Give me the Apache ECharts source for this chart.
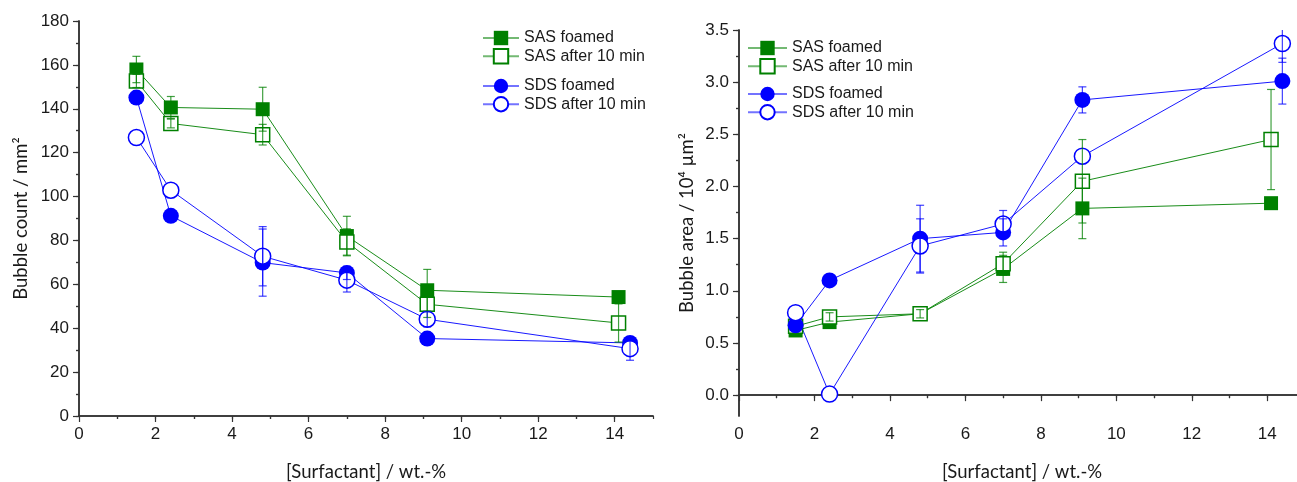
<!DOCTYPE html>
<html>
<head>
<meta charset="utf-8">
<script src="https://cdn.jsdelivr.net/npm/echarts@6/dist/echarts.min.js"></script>
<style>
html,body{margin:0;padding:0;background:#fff;}
#chart{width:1297px;height:482px;}
</style>
</head>
<body>
<div id="chart"></div>
<script>
// ---------- DATA ----------
const concSAS = [1.5, 2.4, 4.8, 7.0, 9.1, 14.1];
const concSDS = [1.5, 2.4, 4.8, 7.0, 9.1, 14.4];

// Left: bubble count / mm^2
const countSASFoamed    = [157.9, 140.6, 139.8, 82.0, 57.3, 54.2];
const countSASFoamedErr = [6, 5, 10, 9, 9.5, 0];
const countSAS10        = [152.7, 133.3, 128.2, 79.3, 50.9, 42.4];
const countSAS10Err     = [3, 2, 4.7, 6, 6, 8.7];
const countSDSFoamed    = [145.1, 91.2, 69.9, 65.2, 35.3, 33.3];
const countSDSFoamedErr = [0, 0, 15.3, 3, 0, 0];
const countSDS10        = [126.9, 102.9, 72.8, 61.9, 44.1, 30.7];
const countSDS10Err     = [0, 0, 13.5, 5.4, 3.4, 5.3];

// Right: bubble area / 10^4 um^2
const areaSASFoamed    = [0.62, 0.70, 0.78, 1.21, 1.79, 1.84];
const areaSASFoamedErr = [0, 0, 0, 0.13, 0.29, 0];
const areaSAS10        = [0.66, 0.75, 0.78, 1.26, 2.05, 2.45];
const areaSAS10Err     = [0, 0.04, 0.04, 0.11, 0.40, 0.48];
const areaSDSFoamed    = [0.67, 1.10, 1.50, 1.56, 2.83, 3.01];
const areaSDSFoamedErr = [0, 0, 0.32, 0.13, 0.125, 0.22];
const areaSDS10        = [0.79, 0.01, 1.43, 1.64, 2.29, 3.37];
const areaSDS10Err     = [0, 0, 0.26, 0.13, 0, 0.18];

const xLabelTicks = [0, 2, 4, 6, 8, 10, 12, 14];
const xMinorTicks = [1, 3, 5, 7, 9, 11, 13, 15];
const countLabelTicks = [0, 20, 40, 60, 80, 100, 120, 140, 160, 180];
const countMinorTicks = [10, 30, 50, 70, 90, 110, 130, 150, 170];
const areaLabelTicks = [0, 0.5, 1.0, 1.5, 2.0, 2.5, 3.0, 3.5];
const areaMinorTicks = [0.25, 0.75, 1.25, 1.75, 2.25, 2.75, 3.25];

// ---------- STYLE ----------
const GREEN = '#008000';
const BLUE = '#0000ff';
const AXIS = '#333333';
const TICKFONT = 'Liberation Sans';
const TITLEFONT = 'Lato';

const zip = (xs, ys) => xs.map((x, i) => [x, ys[i]]);
const zip3 = (xs, ys, es) => xs.map((x, i) => [x, ys[i], es[i]]);

function lineSeries(name, xs, ys, symbol, filled, color, size, ai) {
  return {
    type: 'line', name, data: zip(xs, ys),
    xAxisIndex: ai, yAxisIndex: ai,
    symbol, symbolSize: size,
    showAllSymbol: true,
    lineStyle: { color, width: 1, opacity: 0.9 },
    itemStyle: filled ? { color, borderColor: color, borderWidth: 0 }
                      : { color: '#ffffff', borderColor: color, borderWidth: 1.5 },
    emphasis: { disabled: true },
    z: 3, animation: false
  };
}

function errSeries(xs, ys, es, color, ai) {
  return {
    type: 'custom', xAxisIndex: ai, yAxisIndex: ai,
    data: zip3(xs, ys, es), clip: true, z: 4, silent: true, animation: false,
    renderItem: function (params, api) {
      const x = api.value(0), y = api.value(1), e = api.value(2);
      if (!e) return { type: 'group', children: [] };
      const top = api.coord([x, y + e]);
      const bot = api.coord([x, y - e]);
      const cw = 4;
      const st = { stroke: color, lineWidth: 1.2, opacity: 0.75 };
      return {
        type: 'group', children: [
          { type: 'line', shape: { x1: top[0], y1: top[1], x2: bot[0], y2: bot[1] }, style: st },
          { type: 'line', shape: { x1: top[0] - cw, y1: top[1], x2: top[0] + cw, y2: top[1] }, style: st },
          { type: 'line', shape: { x1: bot[0] - cw, y1: bot[1], x2: bot[0] + cw, y2: bot[1] }, style: st }
        ]
      };
    }
  };
}

function xAxes(grid, title) {
  const base = { type: 'value', gridIndex: grid, min: 0, max: 15, splitLine: { show: false } };
  return [
    Object.assign({}, base, {
      position: 'bottom',
      axisLine: { show: true, lineStyle: { color: AXIS, width: 1.5 } },
      axisTick: { show: true, inside: false, length: 6, customValues: xLabelTicks, lineStyle: { color: AXIS, width: 1.2 } },
      axisLabel: { show: true, customValues: xLabelTicks, margin: 10, fontFamily: TICKFONT, fontSize: 17, color: '#1a1a1a' },
      name: title, nameLocation: 'middle', nameGap: 47,
      nameTextStyle: { fontFamily: TITLEFONT, fontSize: 18.5, color: '#1a1a1a' }
    }),
    Object.assign({}, base, {
      position: 'bottom',
      axisLine: { show: false },
      axisTick: { show: true, inside: false, length: 3, customValues: xMinorTicks, lineStyle: { color: AXIS, width: 1.2 } },
      axisLabel: { show: false }
    }),
    Object.assign({}, base, {
      position: 'top',
      axisLine: { show: true, lineStyle: { color: AXIS, width: 1.5 } },
      axisTick: { show: true, inside: true, length: 3, customValues: [1,2,3,4,5,6,7,8,9,10,11,12,13,14], lineStyle: { color: AXIS, width: 1.2 } },
      axisLabel: { show: false }
    })
  ];
}

function yAxes(grid, min, max, labels, minors, allTicks, fmt, title, gap) {
  const base = { type: 'value', gridIndex: grid, min, max, splitLine: { show: false } };
  return [
    Object.assign({}, base, {
      position: 'left',
      axisLine: { show: true, lineStyle: { color: AXIS, width: 1.5 } },
      axisTick: { show: true, inside: false, length: 6, customValues: labels, lineStyle: { color: AXIS, width: 1.2 } },
      axisLabel: { show: true, customValues: labels, margin: 10, formatter: fmt, fontFamily: TICKFONT, fontSize: 17, color: '#1a1a1a' },
      name: title, nameLocation: 'middle', nameGap: gap, nameRotate: 90,
      nameTextStyle: { fontFamily: TITLEFONT, fontSize: 18.5, color: '#1a1a1a' }
    }),
    Object.assign({}, base, {
      position: 'left',
      axisLine: { show: false },
      axisTick: { show: true, inside: false, length: 3, customValues: minors, lineStyle: { color: AXIS, width: 1.2 } },
      axisLabel: { show: false }
    }),
    Object.assign({}, base, {
      position: 'right',
      axisLine: { show: true, lineStyle: { color: AXIS, width: 1.5 } },
      axisTick: { show: true, inside: true, length: 3, customValues: allTicks, lineStyle: { color: AXIS, width: 1.2 } },
      axisLabel: { show: false }
    })
  ];
}

function legend(names, left, top, iw) {
  return {
    data: names, orient: 'vertical', left, top, padding: 0,
    itemWidth: iw, itemHeight: 18, itemGap: 2,
    selectedMode: false,
    lineStyle: { opacity: 0.55 },
    textStyle: { fontFamily: TICKFONT, fontSize: 16, color: '#1a1a1a' }
  };
}

const countAllTicks = countMinorTicks.concat(countLabelTicks).sort((a, b) => a - b);
const areaAllTicks = areaMinorTicks.concat(areaLabelTicks).sort((a, b) => a - b);

const option = {
  backgroundColor: '#ffffff',
  animation: false,
  grid: [
    { left: 79, top: 21, right: 644, bottom: 66, outerBoundsMode: 'none', containLabel: false },
    { left: 739, top: 30, right: -8, bottom: 66, outerBoundsMode: 'none', containLabel: false }
  ],
  legend: [
    legend(['SAS foamed', 'SAS after 10 min'], 482, 30, 36),
    legend(['SDS foamed', 'SDS after 10 min'], 482, 78, 36),
    legend(['SAS foamed', 'SAS after 10 min'], 747, 40, 39),
    legend(['SDS foamed', 'SDS after 10 min'], 747, 86, 39)
  ],
  xAxis: xAxes(0, '[Surfactant] / wt.-%').concat(xAxes(1, '[Surfactant] / wt.-%')),
  yAxis: yAxes(0, 0, 180, countLabelTicks, countMinorTicks, countAllTicks, v => String(v), 'Bubble count / mm²', 48)
    .concat(yAxes(1, -0.2, 3.5, areaLabelTicks, areaMinorTicks, areaAllTicks, v => v.toFixed(1), 'Bubble area / 10⁴ µm²', 42)),
  series: [
    // left chart (axis index 0)
    errSeries(concSAS, countSASFoamed, countSASFoamedErr, GREEN, 0),
    errSeries(concSAS, countSAS10, countSAS10Err, GREEN, 0),
    errSeries(concSDS, countSDSFoamed, countSDSFoamedErr, BLUE, 0),
    errSeries(concSDS, countSDS10, countSDS10Err, BLUE, 0),
    lineSeries('SAS foamed', concSAS, countSASFoamed, 'rect', true, GREEN, 14, 0),
    lineSeries('SAS after 10 min', concSAS, countSAS10, 'rect', false, GREEN, 14, 0),
    lineSeries('SDS foamed', concSDS, countSDSFoamed, 'circle', true, BLUE, 16, 0),
    lineSeries('SDS after 10 min', concSDS, countSDS10, 'circle', false, BLUE, 16, 0),
    // right chart (axis index 3)
    errSeries(concSAS, areaSASFoamed, areaSASFoamedErr, GREEN, 3),
    errSeries(concSAS, areaSAS10, areaSAS10Err, GREEN, 3),
    errSeries(concSDS, areaSDSFoamed, areaSDSFoamedErr, BLUE, 3),
    errSeries(concSDS, areaSDS10, areaSDS10Err, BLUE, 3),
    lineSeries('SAS foamed', concSAS, areaSASFoamed, 'rect', true, GREEN, 14, 3),
    lineSeries('SAS after 10 min', concSAS, areaSAS10, 'rect', false, GREEN, 14, 3),
    lineSeries('SDS foamed', concSDS, areaSDSFoamed, 'circle', true, BLUE, 16, 3),
    lineSeries('SDS after 10 min', concSDS, areaSDS10, 'circle', false, BLUE, 16, 3)
  ]
};

const chart = echarts.init(document.getElementById('chart'), null, { renderer: 'canvas' });
chart.setOption(option);
</script>
</body>
</html>
